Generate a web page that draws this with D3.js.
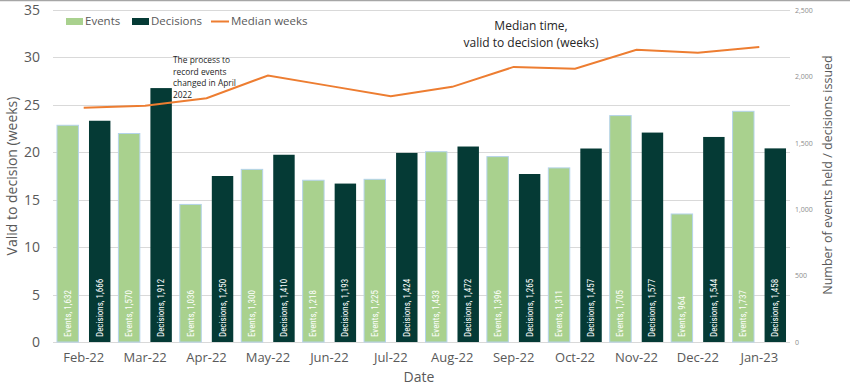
<!DOCTYPE html>
<html>
<head>
<meta charset="utf-8">
<script src="https://cdn.jsdelivr.net/npm/d3@7"></script>
<style>
  body { margin: 0; background: #ffffff; }
  text { font-family: "Open Sans", "Noto Sans", sans-serif; }
</style>
</head>
<body>
<script>

// Data
var months = ["Feb-22", "Mar-22", "Apr-22", "May-22", "Jun-22", "Jul-22",
              "Aug-22", "Sep-22", "Oct-22", "Nov-22", "Dec-22", "Jan-23"];
var events = [1632, 1570, 1036, 1300, 1218, 1225, 1433, 1396, 1311, 1705, 964, 1737];
var decisions = [1666, 1912, 1250, 1410, 1193, 1424, 1472, 1265, 1457, 1577, 1544, 1458];
var medianWeeks = [24.7, 24.9, 25.7, 28.1, 27.0, 25.9, 26.9, 29.0, 28.8, 30.8, 30.5, 31.1];
var weekTicks = [0, 5, 10, 15, 20, 25, 30, 35];
var countTicks = [0, 500, 1000, 1500, 2000, 2500];
var seriesNames = ["Events", "Decisions"];

function loadChart(){

  var wx = 850,
      hy = 391;

  var left = 53, right = 790, top = 10, bottom = 342;

  var svg = d3.select("body")
      .append("svg")
      .attr("width", wx)
      .attr("height", hy);

  // frame line on top
  svg.append("line")
      .attr("x1", 0).attr("x2", wx)
      .attr("y1", 0.5).attr("y2", 0.5)
      .style("stroke", "#a6a6a6")
      .style("stroke-width", 1.5);

  // scales
  var x0 = d3.scaleBand()
      .domain(months)
      .range([left, right])
      .paddingInner(0.13)
      .paddingOuter(0.065);

  var x1 = d3.scaleBand()
      .domain(seriesNames)
      .range([0, x0.bandwidth()])
      .paddingInner(0.33);

  var yWeeks = d3.scaleLinear().domain([0, 35]).range([bottom, top]);
  var yCount = d3.scaleLinear().domain([0, 2500]).range([bottom, top]);

  // gridlines
  svg.append("g")
      .selectAll("line")
      .data(weekTicks)
      .join("line")
      .attr("x1", left)
      .attr("x2", right)
      .attr("y1", function(d){ return Math.round(yWeeks(d)) + 0.5; })
      .attr("y2", function(d){ return Math.round(yWeeks(d)) + 0.5; })
      .style("stroke", "#d9d9d9")
      .style("stroke-width", 1);

  // left axis
  var leftAxis = svg.append("g")
      .attr("transform", "translate(" + (left - 11) + ",0)")
      .call(d3.axisLeft(yWeeks).tickValues(weekTicks).tickSize(0).tickPadding(2));
  leftAxis.select(".domain").remove();
  leftAxis.selectAll("text")
      .style("font-size", "14px")
      .style("fill", "#595959");

  // right axis
  var rightAxis = svg.append("g")
      .attr("transform", "translate(" + (right + 3) + ",0)")
      .call(d3.axisRight(yCount).tickValues(countTicks).tickSize(0).tickPadding(2)
            .tickFormat(d3.format(",")));
  rightAxis.select(".domain").remove();
  rightAxis.selectAll("text")
      .style("font-size", "7px")
      .style("fill", "#8c8c8c");

  // bars
  var groups = svg.append("g")
      .selectAll("g")
      .data(months)
      .join("g")
      .attr("transform", function(d){ return "translate(" + x0(d) + ",0)"; });

  var barData = function(d, i){
    return [
      { name: "Events", value: events[i] },
      { name: "Decisions", value: decisions[i] }
    ];
  };

  groups.selectAll("rect")
      .data(barData)
      .join("rect")
      .attr("x", function(d){ return x1(d.name); })
      .attr("width", x1.bandwidth())
      .attr("y", function(d){ return yCount(d.value); })
      .attr("height", function(d){ return yCount(0) - yCount(d.value); })
      .style("fill", function(d){ return d.name == "Events" ? "#a9d18e" : "#053a35"; })
      .style("stroke", function(d){ return d.name == "Events" ? "#b4d3ea" : "none"; })
      .style("stroke-width", 1);

  // bar labels, rotated
  groups.selectAll("text")
      .data(barData)
      .join("text")
      .attr("transform", function(d){
        return "translate(" + (x1(d.name) + x1.bandwidth() / 2 + 3) + "," + (bottom - 5) + ") rotate(-90)";
      })
      .attr("text-anchor", "start")
      .style("font-family", "'Liberation Sans Narrow', 'Roboto Condensed', 'Open Sans', sans-serif")
      .style("font-size", "9px")
      .style("fill", "#ffffff")
      .text(function(d){ return d.name + ", " + d3.format(",")(d.value); });

  // median line
  var line = d3.line()
      .x(function(d, i){ return x0(months[i]) + x0.bandwidth() / 2; })
      .y(function(d){ return yWeeks(d); });

  svg.append("path")
      .datum(medianWeeks)
      .attr("d", line)
      .style("fill", "none")
      .style("stroke", "#ed7d31")
      .style("stroke-width", 2);

  // x labels
  svg.append("g")
      .selectAll("text")
      .data(months)
      .join("text")
      .attr("x", function(d){ return x0(d) + x0.bandwidth() / 2; })
      .attr("y", 362)
      .attr("text-anchor", "middle")
      .style("font-size", "13px")
      .style("fill", "#595959")
      .text(function(d){ return d; });

  // axis titles
  svg.append("text")
      .attr("x", 419).attr("y", 382)
      .attr("text-anchor", "middle")
      .style("font-size", "14px")
      .style("fill", "#595959")
      .text("Date");

  svg.append("text")
      .attr("transform", "translate(17,176) rotate(-90)")
      .attr("text-anchor", "middle")
      .style("font-size", "14px")
      .style("fill", "#595959")
      .text("Valid to decision (weeks)");

  svg.append("text")
      .attr("transform", "translate(832,175) rotate(-90)")
      .attr("text-anchor", "middle")
      .style("font-size", "12.5px")
      .style("fill", "#595959")
      .text("Number of events held / decisions issued");

  // legend
  var legend = svg.append("g");
  legend.append("rect")
      .attr("x", 66).attr("y", 18).attr("width", 17).attr("height", 7)
      .style("fill", "#a9d18e");
  legend.append("text")
      .attr("x", 85).attr("y", 25)
      .style("font-size", "11.5px").style("fill", "#595959")
      .text("Events");
  legend.append("rect")
      .attr("x", 132).attr("y", 18).attr("width", 17).attr("height", 7)
      .style("fill", "#053a35");
  legend.append("text")
      .attr("x", 151).attr("y", 25)
      .style("font-size", "11.5px").style("fill", "#595959")
      .text("Decisions");
  legend.append("line")
      .attr("x1", 211).attr("x2", 229).attr("y1", 21.5).attr("y2", 21.5)
      .style("stroke", "#ed7d31").style("stroke-width", 2);
  legend.append("text")
      .attr("x", 231).attr("y", 25)
      .style("font-size", "11.5px").style("fill", "#595959")
      .text("Median weeks");

  // annotations
  var note = svg.append("text")
      .style("font-size", "8.4px")
      .style("fill", "#262626");
  ["The process to", "record events", "changed in April", "2022"].forEach(function(s, i){
    note.append("tspan")
        .attr("x", 173)
        .attr("y", 63 + i * 11.5)
        .text(s);
  });

  var title = svg.append("text")
      .attr("text-anchor", "middle")
      .style("font-size", "12px")
      .style("fill", "#262626");
  title.append("tspan").attr("x", 531).attr("y", 30).text("Median time,");
  title.append("tspan").attr("x", 531).attr("y", 46.5).text("valid to decision (weeks)");
}
loadChart();
</script>
</body>
</html>
